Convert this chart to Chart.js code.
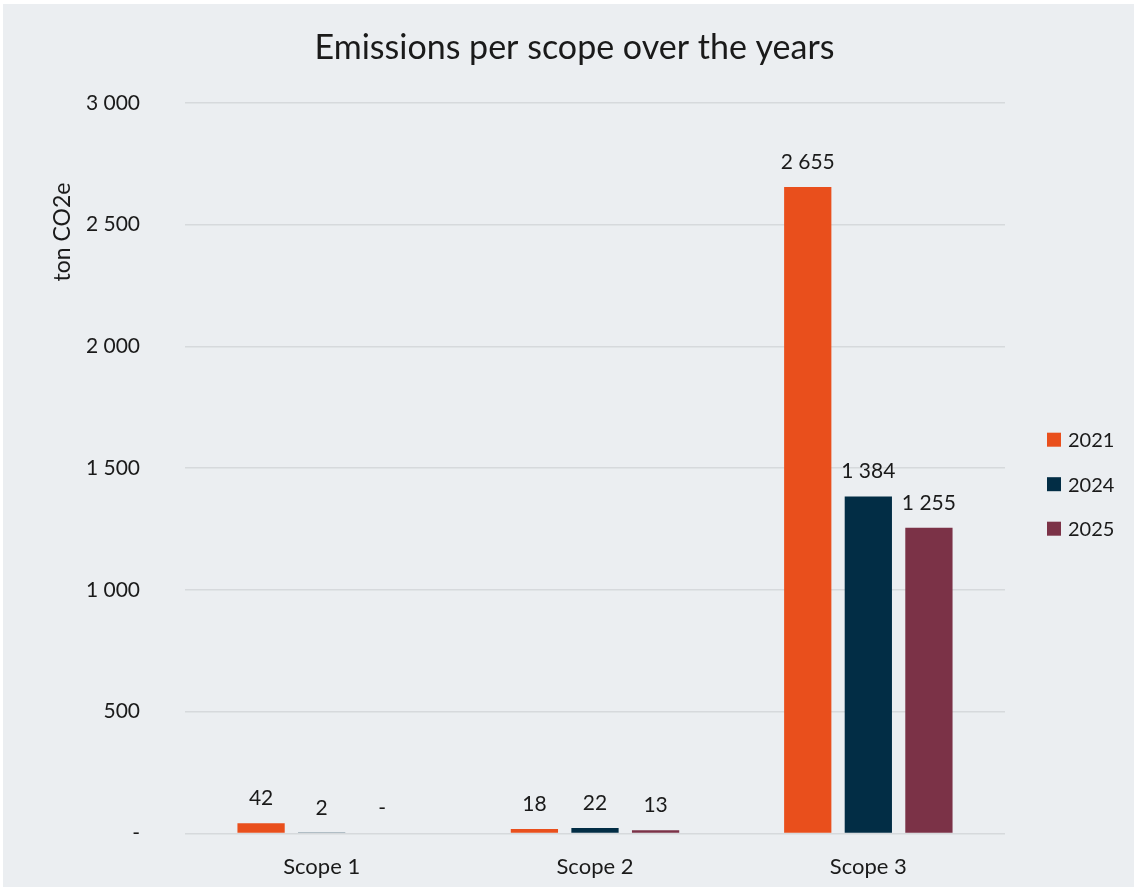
<!DOCTYPE html>
<html>
<head>
<meta charset="utf-8">
<script src="https://cdn.jsdelivr.net/npm/chart.js@4/dist/chart.umd.min.js"></script>
<style>
  html, body { margin: 0; padding: 0; background: #ffffff; }
  #frame { position: absolute; left: 3px; top: 4px; width: 1131px; height: 883px; background: #EBEEF1; overflow: hidden; }
  canvas { display: block; }
</style>
</head>
<body>
<div id="frame"><canvas id="chart" width="1131" height="887"></canvas></div>
<script>
// Emissions per scope, ton CO2e
const scopes = ['Scope 1', 'Scope 2', 'Scope 3'];
const years = ['2021', '2024', '2025'];
const values2021 = [42, 18, 2655];
const values2024 = [2, 22, 1384];
const values2025 = [0, 13, 1255];
const yearColors = ['#E94F1C', '#022D45', '#7B3247'];
const yTicks = [0, 500, 1000, 1500, 2000, 2500, 3000];

const FONT = 'Lato, "Open Sans", sans-serif';
const TEXT = '#1A1A1A';
const TITLE = 'Emissions per scope over the years';
const Y_TITLE = 'ton CO2e';

// Accounting-style numbers: space as thousands separator, dash for zero
function fmt(v) {
  if (v === 0) return '-';
  return String(Math.round(v)).replace(/\B(?=(\d{3})+(?!\d))/g, ' ');
}

// Chart title, centred on the whole canvas
const chartTitle = {
  id: 'chartTitle',
  afterDraw(chart) {
    const ctx = chart.ctx;
    ctx.save();
    ctx.font = '34px ' + FONT;
    ctx.fillStyle = TEXT;
    ctx.textAlign = 'center';
    ctx.textBaseline = 'middle';
    ctx.fillText(TITLE, chart.width / 2 + 6, chart.chartArea.top - 55);
    ctx.restore();
  }
};

// Value labels above every bar
const valueLabels = {
  id: 'valueLabels',
  afterDatasetsDraw(chart) {
    const ctx = chart.ctx;
    ctx.save();
    ctx.font = '21px ' + FONT;
    ctx.fillStyle = TEXT;
    ctx.textAlign = 'center';
    ctx.textBaseline = 'middle';
    chart.data.datasets.forEach((ds, i) => {
      chart.getDatasetMeta(i).data.forEach((bar, j) => {
        ctx.fillText(fmt(ds.data[j]), bar.x, bar.y - 25);
      });
    });
    ctx.restore();
  }
};

// Rotated y-axis title placed in the upper part of the axis
const yTitle = {
  id: 'yTitle',
  afterDraw(chart) {
    const ctx = chart.ctx;
    const y = chart.scales.y;
    ctx.save();
    ctx.translate(chart.chartArea.left - 122, y.getPixelForValue(2470));
    ctx.rotate(-Math.PI / 2);
    ctx.font = '23px ' + FONT;
    ctx.fillStyle = TEXT;
    ctx.textAlign = 'center';
    ctx.textBaseline = 'middle';
    ctx.fillText(Y_TITLE, 0, 0);
    ctx.restore();
  }
};

// Vertical legend to the right of the plot
const sideLegend = {
  id: 'sideLegend',
  afterDraw(chart) {
    const ctx = chart.ctx;
    const area = chart.chartArea;
    const n = chart.data.datasets.length;
    const step = 44.5;
    const cy = (area.top + area.bottom) / 2 + 16;
    ctx.save();
    ctx.font = '20px ' + FONT;
    ctx.textBaseline = 'middle';
    ctx.textAlign = 'left';
    chart.data.datasets.forEach((ds, i) => {
      const y = cy + (i - (n - 1) / 2) * step;
      const x = area.right + 42;
      ctx.fillStyle = ds.backgroundColor;
      ctx.fillRect(x, y - 7, 14, 14);
      ctx.fillStyle = TEXT;
      ctx.fillText(ds.label, x + 21, y + 1);
    });
    ctx.restore();
  }
};

const seriesValues = [values2021, values2024, values2025];

new Chart(document.getElementById('chart'), {
  type: 'bar',
  data: {
    labels: scopes,
    datasets: years.map((yr, i) => ({
      label: yr,
      data: seriesValues[i],
      backgroundColor: yearColors[i],
      borderWidth: 0,
      categoryPercentage: 0.665,
      barPercentage: 0.78
    }))
  },
  options: {
    responsive: false,
    animation: false,
    layout: { padding: { top: 99, right: 129, bottom: 0, left: 0 } },
    plugins: {
      legend: { display: false },
      tooltip: { enabled: false },
      title: { display: false }
    },
    scales: {
      x: {
        afterFit(scale) { scale.height = 49; },
        grid: { display: false },
        border: { display: false },
        ticks: { color: TEXT, font: { family: FONT, size: 22 }, padding: 12 }
      },
      y: {
        min: 0,
        max: 3000,
        afterBuildTicks(scale) { scale.ticks = yTicks.map(v => ({ value: v })); },
        afterFit(scale) { scale.width = 182; },
        grid: { color: '#D6D9DC', lineWidth: 1.5, drawTicks: false },
        border: { display: false },
        ticks: {
          color: TEXT,
          font: { family: FONT, size: 21 },
          padding: 45,
          callback: v => fmt(v)
        }
      }
    }
  },
  plugins: [valueLabels, yTitle, sideLegend, chartTitle]
});
</script>
</body>
</html>
